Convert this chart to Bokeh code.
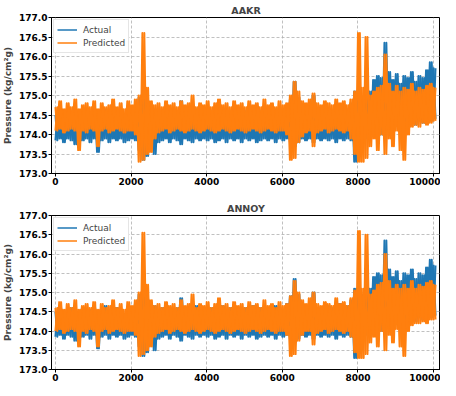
from bokeh.plotting import figure
from bokeh.layouts import column
from bokeh.models import FixedTicker, PrintfTickFormatter, Range1d, Legend, LegendItem
from bokeh.embed import file_html
from bokeh.resources import INLINE

# sample index of each window's start, and of each window's middle
SAMPLE = list(range(0, 10001, 100))
SAMPLE_MID = list(range(50, 10051, 100))

# max / min of the actual signal in each 100-sample window
ACTUAL_HI = [174.5, 174.6, 174.45, 174.55, 174.6, 174.5, 174.45, 174.6, 174.5, 174.55,
             174.6, 174.45, 174.5, 174.65, 174.5, 174.55, 174.6, 174.5, 174.45, 174.6,
             174.55, 174.7, 174.95, 175.2, 174.85, 174.6, 174.65, 174.55, 174.6, 174.5,
             174.6, 174.55, 174.6, 174.85, 174.55, 174.6, 174.5, 174.65, 174.55, 174.6,
             174.55, 174.6, 174.5, 174.6, 174.65, 174.55, 174.6, 174.5, 174.6, 174.55,
             174.6, 174.55, 174.65, 174.5, 174.6, 174.55, 174.6, 174.5, 174.65, 174.6,
             174.55, 174.7, 174.9, 175.35, 174.95, 174.7, 174.6, 174.65, 175.0, 174.6,
             174.55, 174.6, 174.65, 174.6, 174.55, 174.7, 174.6, 174.65, 174.8, 175.1,
             175.0, 174.95, 175.05, 175.1, 175.4, 175.5, 175.45, 176.35, 175.6, 175.4,
             175.55, 175.3, 175.5, 175.45, 175.6, 175.35, 175.5, 175.45, 175.65, 175.85,
             175.7]
ACTUAL_LO = [173.85, 173.9, 173.8, 173.9, 173.85, 173.75, 173.9, 173.85, 173.9, 173.8,
             173.9, 173.55, 173.85, 173.9, 173.8, 173.9, 173.85, 173.9, 173.8, 173.85,
             173.9, 173.85, 173.6, 173.35, 173.45, 173.7, 173.5, 173.8, 173.85, 173.9,
             173.8, 173.9, 173.85, 173.75, 173.9, 173.85, 173.8, 173.9, 173.85, 173.9,
             173.85, 173.9, 173.8, 173.85, 173.9, 173.8, 173.9, 173.85, 173.9, 173.8,
             173.9, 173.85, 173.9, 173.8, 173.85, 173.9, 173.85, 173.9, 173.8, 173.9,
             173.85, 173.9, 173.8, 173.7, 173.8, 173.9, 173.85, 173.9, 173.8, 173.9,
             173.85, 173.9, 173.85, 173.9, 173.8, 173.9, 173.85, 173.9, 173.85, 173.3,
             173.9, 173.85, 173.9, 173.95, 174.1, 174.2, 174.0, 174.25, 174.1, 174.2,
             174.3, 174.15, 174.25, 174.2, 174.3, 174.25, 174.35, 174.3, 174.4, 174.35,
             174.4]

AAKR_HI = [174.7, 174.85, 174.65, 174.8, 174.7, 174.9, 174.65, 174.75, 174.8, 174.7,
           174.85, 174.65, 174.8, 174.7, 174.75, 174.9, 174.7, 174.8, 174.65, 174.85,
           174.75, 174.9, 175.0, 176.6, 175.2, 174.85, 174.75, 174.8, 174.7, 174.85,
           174.75, 174.8, 174.7, 174.85, 174.75, 174.8, 175.0, 174.7, 174.8, 174.75,
           174.85, 174.7, 174.8, 174.9, 174.75, 174.8, 174.7, 174.85, 174.75, 174.8,
           174.7, 174.85, 174.75, 174.8, 174.7, 174.9, 174.75, 174.8, 174.7, 174.85,
           174.75, 174.8, 175.0, 175.35, 175.1, 174.85, 174.8, 174.9, 175.05, 174.8,
           174.75, 174.85, 174.8, 174.75, 174.9, 174.8, 174.85, 174.75, 174.9, 175.1,
           176.6, 175.2, 176.5, 175.0, 175.1, 175.2, 175.25, 176.05, 175.3, 175.1,
           175.25, 175.1, 175.2, 175.15, 175.3, 175.1, 175.2, 175.15, 175.25, 175.3,
           175.2]
AAKR_LO = [174.1, 174.15, 174.05, 174.1, 174.15, 174.1, 173.6, 174.1, 174.05, 174.15,
           174.1, 173.7, 174.1, 174.15, 174.05, 174.1, 174.15, 174.1, 174.05, 174.1,
           174.1, 174.0, 173.3, 173.35, 173.5, 173.55, 173.9, 174.05, 174.1, 174.15,
           174.05, 174.1, 174.15, 174.1, 174.05, 174.1, 174.15, 174.1, 174.05, 174.1,
           174.15, 174.1, 174.05, 174.1, 174.15, 174.1, 174.05, 174.1, 174.15, 174.1,
           174.05, 174.1, 174.15, 174.1, 174.05, 174.1, 174.15, 174.1, 174.05, 174.1,
           174.1, 174.0, 173.35, 173.4, 173.8, 173.95, 174.05, 174.1, 173.7, 174.05,
           174.1, 174.15, 174.05, 174.1, 174.15, 174.1, 174.05, 174.1, 173.9, 173.5,
           173.3, 173.3, 173.4, 173.7, 173.9, 173.6, 174.0, 173.5, 173.9, 173.7,
           174.1, 173.6, 173.35, 174.0, 174.2, 174.25, 174.2, 174.3, 174.25, 174.3,
           174.35]

ANNOY_HI = [174.6, 174.75, 174.55, 174.7, 174.6, 174.8, 174.55, 174.65, 174.7, 174.6,
            174.75, 174.55, 174.7, 174.6, 174.65, 174.8, 174.6, 174.7, 174.55, 174.75,
            174.65, 174.8, 175.0, 176.55, 175.2, 174.8, 174.65, 174.7, 174.6, 174.75,
            174.65, 174.7, 174.6, 174.8, 174.65, 174.7, 174.95, 174.6, 174.7, 174.65,
            174.75, 174.6, 174.7, 174.85, 174.65, 174.7, 174.6, 174.75, 174.65, 174.7,
            174.6, 174.75, 174.65, 174.7, 174.6, 174.8, 174.65, 174.7, 174.6, 174.75,
            174.65, 174.7, 174.9, 175.3, 175.0, 174.8, 174.7, 174.85, 175.0, 174.7,
            174.65, 174.75, 174.7, 174.65, 174.85, 174.7, 174.75, 174.65, 174.85, 175.05,
            176.6, 175.1, 176.5, 174.95, 175.05, 175.2, 175.25, 176.0, 175.3, 175.1,
            175.2, 175.1, 175.2, 175.1, 175.3, 175.1, 175.2, 175.15, 175.25, 175.3,
            175.2]
ANNOY_LO = [174.0, 174.05, 173.95, 174.0, 174.05, 174.0, 173.6, 174.0, 173.95, 174.05,
            174.0, 173.6, 174.0, 174.05, 173.95, 174.0, 174.05, 174.0, 173.95, 174.0,
            174.0, 173.9, 173.35, 173.4, 173.5, 173.6, 173.85, 173.95, 174.0, 174.05,
            173.95, 174.0, 174.05, 174.0, 173.95, 174.0, 174.05, 174.0, 173.95, 174.0,
            174.05, 174.0, 173.95, 174.0, 174.05, 174.0, 173.95, 174.0, 174.05, 174.0,
            173.95, 174.0, 174.05, 174.0, 173.95, 174.0, 174.05, 174.0, 173.95, 174.0,
            174.0, 173.9, 173.35, 173.4, 173.75, 173.9, 174.0, 174.0, 173.65, 173.95,
            174.0, 174.05, 173.95, 174.0, 174.05, 174.0, 173.95, 174.0, 173.85, 173.45,
            173.3, 173.3, 173.4, 173.7, 173.85, 173.6, 174.0, 173.5, 173.9, 173.7,
            174.05, 173.6, 173.35, 174.0, 174.15, 174.2, 174.2, 174.25, 174.2, 174.3,
            174.3]

Y_TICKS = [173.0, 173.5, 174.0, 174.5, 175.0, 175.5, 176.0, 176.5, 177.0]
X_TICKS = [0, 2000, 4000, 6000, 8000, 10000]
SERIES_NAMES = ["Actual", "Predicted"]

BLUE = "#1f77b4"
ORANGE = "#ff7f0e"
FONT = "DejaVu Sans"


def zigzag(first, second):
    xs, ys = [], []
    for xa, xb, a, b in zip(SAMPLE, SAMPLE_MID, first, second):
        xs += [xa, xb]
        ys += [a, b]
    return xs, ys


def draw_series(p, hi, lo, color):
    # two interleaved zig-zags (max->min and min->max) give a dense noisy band
    for first, second in ((hi, lo), (lo, hi)):
        xs, ys = zigzag(first, second)
        p.line(xs, ys, color=color, line_width=2.0, line_join="round")


def make_fig(title, pred_hi, pred_lo, frame_h, top, bottom):
    p = figure(width=440, frame_height=frame_h, output_backend="svg", toolbar_location=None,
               x_range=Range1d(-104, 10182), y_range=Range1d(173.0, 177.0),
               min_border_left=42, min_border_right=0,
               min_border_top=top, min_border_bottom=bottom)
    p.title.text = title
    p.title.align = "center"
    p.title.text_font = FONT
    p.title.text_font_size = "9.5px"
    p.title.text_font_style = "bold"
    p.title.standoff = 4
    p.outline_line_color = "black"
    p.outline_line_width = 1
    p.background_fill_color = "white"

    draw_series(p, ACTUAL_HI, ACTUAL_LO, BLUE)
    draw_series(p, pred_hi, pred_lo, ORANGE)

    # legend keys: off-screen lines, only their styling shows in the legend
    keys = [p.line([-5000, -4000], [170.0, 170.0], color=c, line_width=1.5)
            for c in (BLUE, ORANGE)]

    for axis in (p.xaxis, p.yaxis):
        axis.major_label_text_font = FONT
        axis.major_label_text_font_size = "9px"
        axis.major_label_text_font_style = "bold"
        axis.major_label_text_color = "black"
        axis.major_tick_in = 0
        axis.major_tick_out = 3
        axis.minor_tick_out = 0
        axis.minor_tick_in = 0
        axis.major_label_standoff = 1
        axis.axis_line_color = "black"
    p.xaxis.ticker = FixedTicker(ticks=X_TICKS)
    p.xaxis.formatter = PrintfTickFormatter(format="%d")
    p.yaxis.ticker = FixedTicker(ticks=Y_TICKS)
    p.yaxis.formatter = PrintfTickFormatter(format="%.1f")
    p.yaxis.axis_label = "Pressure (kg/cm²g)"
    p.yaxis.axis_label_text_font = FONT
    p.yaxis.axis_label_text_font_size = "9px"
    p.yaxis.axis_label_text_font_style = "bold"
    p.yaxis.axis_label_standoff = 3

    for g in (p.xgrid, p.ygrid):
        g.grid_line_color = "#b0b0b0"
        g.grid_line_dash = "3 2"
        g.grid_line_width = 0.8

    lg = Legend(items=[LegendItem(label=SERIES_NAMES[0], renderers=[keys[0]]),
                       LegendItem(label=SERIES_NAMES[1], renderers=[keys[1]])],
                location="top_left")
    lg.margin = 2
    lg.padding = 3
    lg.spacing = 0
    lg.label_text_font = FONT
    lg.label_text_font_size = "9px"
    lg.label_height = 13
    lg.glyph_height = 13
    lg.glyph_width = 20
    lg.label_standoff = 6
    lg.border_line_color = "#cccccc"
    lg.background_fill_alpha = 1.0
    p.add_layout(lg, "center")
    return p


p1 = make_fig("AAKR", AAKR_HI, AAKR_LO, 156, 11, 16)
p2 = make_fig("ANNOY", ANNOY_HI, ANNOY_LO, 154, 26, 17)
page = column(p1, p2, spacing=0)

open("out.html", "w").write(file_html(page, INLINE))
